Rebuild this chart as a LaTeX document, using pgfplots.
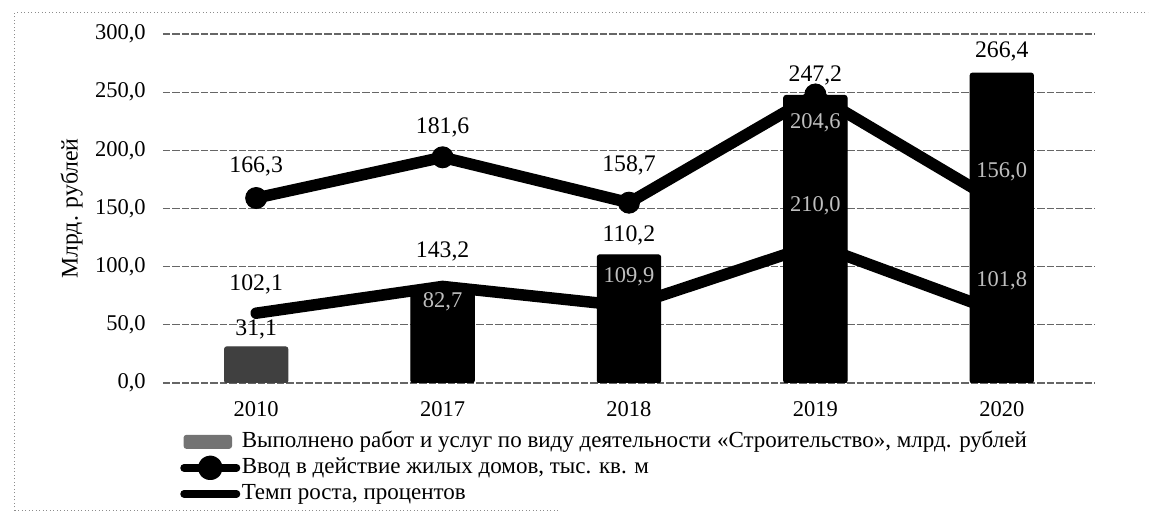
\documentclass[border=0pt]{standalone}
\usepackage{fontspec}
\setmainfont{Liberation Serif}
\usepackage{pgfplots}
\pgfplotsset{compat=1.18}
\begin{document}
\begin{tikzpicture}
\path[use as bounding box] (-65.2pt,-54.4pt) rectangle (396pt,153.2pt);
\draw[black!45, line width=0.4pt, densely dotted] (-59.2pt,-51.2pt) -- (-59.2pt,148pt) -- (394pt,148pt);
\draw[black!45, line width=0.4pt, densely dotted] (-59.2pt,-51.2pt) -- (158pt,-51.2pt);
\begin{axis}[
  scale only axis, width=372.8pt, height=139.6pt,
  xmin=-0.5, xmax=4.5, ymin=0, ymax=300,
  axis line style={draw=none},
  tick style={draw=none}, major tick length=0pt,
  ytick={0,50,...,300},
  xtick={0,1,2,3,4}, xticklabels={2010,2017,2018,2019,2020},
  ymajorgrids,
  grid style={black!60, line width=0.5pt, dash pattern=on 3pt off 0.8pt},
  /pgf/number format/.cd, fixed, fixed zerofill, precision=1, use comma, assume math mode=true,
  /pgfplots/.cd,
  ticklabel style={font=\fontsize{9}{11}\selectfont},
  yticklabel style={anchor=east, xshift=-3.4pt},
  xticklabel style={yshift=-4pt},
  ylabel={Млрд. рублей},
  ylabel style={font=\fontsize{9.5}{11}\selectfont, xshift=0pt, yshift=-2pt},
  ybar, bar width=0.34,
  legend style={at={(rel axis cs:0.018,-0.13)}, anchor=north west, draw=none, fill=none,
    font=\fontsize{9.2}{11}\selectfont, inner sep=0pt, row sep=0pt,
    nodes={inner sep=0.6pt, text height=7pt, text depth=2.2pt}},
  legend cell align=left,
]
% bars
\addplot[bar shift=0pt, fill=black!75, draw=black!75, rounded corners=1pt,
  legend image code/.code={\fill[black!55] (0pt,-2.6pt) rectangle (19pt,2.6pt);}]
  coordinates {(0,31.1)};
\addlegendentry{Выполнено работ и услуг по виду деятельности «Строительство», млрд. рублей}
\addplot[bar shift=0pt, fill=black, draw=black, rounded corners=1pt, forget plot]
  coordinates {(1,82.7) (2,110.2) (3,247.2) (4,266.4)};
% lines
\addplot[sharp plot, bar shift=0pt, black, line width=4.6pt, line join=round, line cap=round,
  mark=*, mark size=4.2pt, mark options={solid, fill=black, line width=0.4pt},
  legend image code/.code={\draw[line width=3pt] (0pt,0pt) -- (21pt,0pt); \fill (10.5pt,0pt) circle (2.6pt);}]
  coordinates {(0,159) (1,194) (2,155) (3,248) (4,153)};
\addlegendentry{Ввод в действие жилых домов, тыс. кв. м}
\addplot[sharp plot, bar shift=0pt, black, line width=4.6pt, line join=round, line cap=round, mark=none,
  legend image code/.code={\draw[line width=3pt] (0pt,0pt) -- (21pt,0pt);}]
  coordinates {(0,60) (1,83) (2,66) (3,119) (4,60)};
\addlegendentry{Темп роста, процентов}
% labels (black)
\addplot[sharp plot, bar shift=0pt, draw=none, mark=none, forget plot,
  nodes near coords, point meta=explicit symbolic,
  nodes near coords style={anchor=center, font=\fontsize{9.5}{11}\selectfont, text=black}]
  coordinates {(0,186.4)[166,3] (0,85)[102,1] (0,46.4)[31,1]
               (1,219.9)[181,6] (1,113.4)[143,2]
               (2,187.3)[158,7] (2,127)[110,2]
               (3,264.6)[247,2] (4,285)[266,4]};
% labels (inside bars)
\addplot[sharp plot, bar shift=0pt, draw=none, mark=none, forget plot,
  nodes near coords, point meta=explicit symbolic,
  nodes near coords style={anchor=center, font=\fontsize{9}{11}\selectfont, text=black!25}]
  coordinates {(1,69.6)[82,7] (2,91)[109,9] (3,223.4)[204,6] (3,152)[210,0]
               (4,182)[156,0] (4,87.6)[101,8]};
\end{axis}
\end{tikzpicture}
\end{document}
